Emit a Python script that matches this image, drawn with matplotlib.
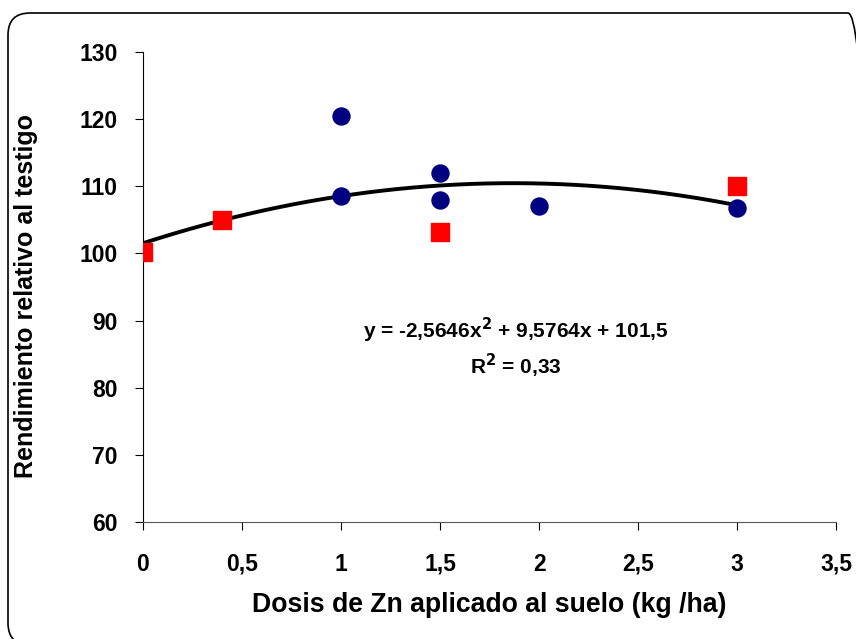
import matplotlib.pyplot as plt
import numpy as np
from matplotlib.patches import FancyBboxPatch
from matplotlib.transforms import IdentityTransform

# data
circ_x = [1, 1, 1.5, 1.5, 2, 3]
circ_y = [120.5, 108.5, 112, 108, 107, 106.8]
sq_x = [0, 0.4, 1.5, 3]
sq_y = [100.2, 105, 103.2, 110]
coef = [-2.5646, 9.5764, 101.5]  # y = a x^2 + b x + c

plt.rcParams['font.family'] = ['Liberation Sans', 'DejaVu Sans']
plt.rcParams['font.weight'] = 'bold'

fig = plt.figure(figsize=(8.56, 6.39), dpi=100)
ax = fig.add_axes([0.167, 0.183, 0.81, 0.736])

# rounded frame (in pixels), runs off the right and bottom edges like the original
frame = FancyBboxPatch((8, -6), 862, 632, boxstyle="round,pad=0,rounding_size=22",
                       transform=IdentityTransform(), fill=False, edgecolor='black', linewidth=1.2)
fig.patches.append(frame)

xs = np.linspace(0, 3, 200)
ax.plot(xs, np.polyval(coef, xs), color='black', linewidth=2.8, zorder=2)
ax.scatter(circ_x, circ_y, s=150, marker='o', color='#000080', zorder=3)
ax.scatter(sq_x, sq_y, s=150, marker='s', color='#ff0000', zorder=3)

ax.set_xlim(0, 3.5)
ax.set_ylim(60, 130)
ax.set_xticks(np.arange(0, 3.51, 0.5))
ax.set_xticklabels(['0', '0,5', '1', '1,5', '2', '2,5', '3', '3,5'])
ax.set_yticks(np.arange(60, 131, 10))
ax.spines['top'].set_visible(False)
ax.spines['right'].set_visible(False)
ax.spines['bottom'].set_color('#555555')
ax.tick_params(axis='x', direction='out', length=6, pad=16, labelsize=16.5)
ax.tick_params(axis='y', direction='out', length=6, pad=12, labelsize=16.5)

ax.set_xlabel('Dosis de Zn aplicado al suelo (kg /ha)', fontsize=19.2, fontweight='bold', labelpad=12)
ax.set_ylabel('Rendimiento relativo al testigo', fontsize=18, fontweight='bold')
ax.yaxis.set_label_coords(-0.152, 0.481)

ax.text(1.88, 88.6, r'y = -2,5646x$^\mathbf{2}$ + 9,5764x + 101,5', ha='center', va='center',
        fontsize=15, fontweight='bold')
ax.text(1.88, 83.3, r'R$^\mathbf{2}$ = 0,33', ha='center', va='center', fontsize=15, fontweight='bold')

plt.savefig('out.png', dpi=100)
